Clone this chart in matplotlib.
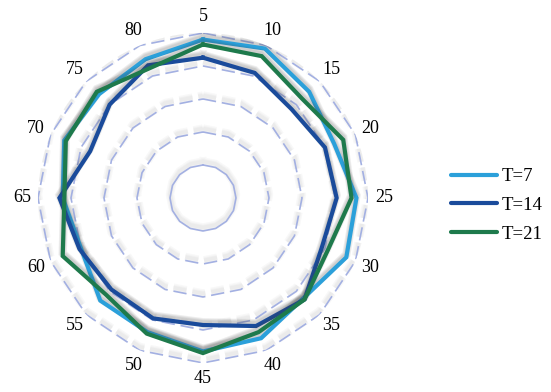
import numpy as np
import matplotlib
matplotlib.use("Agg")
import matplotlib.pyplot as plt
import matplotlib.patheffects as pe
from matplotlib.lines import Line2D

categories = ["5", "10", "15", "20", "25", "30", "35", "40",
              "45", "50", "55", "60", "65", "70", "75", "80"]
t7 = [0.96, 0.98, 0.91, 0.86, 0.93, 0.94, 0.86, 0.92,
      0.93, 0.88, 0.88, 0.80, 0.85, 0.91, 0.89, 0.91]
t14 = [0.85, 0.82, 0.76, 0.80, 0.81, 0.78, 0.87, 0.84,
       0.77, 0.79, 0.785, 0.81, 0.87, 0.74, 0.80, 0.87]
t21 = [0.93, 0.93, 0.85, 0.92, 0.90, 0.82, 0.87, 0.88,
       0.94, 0.89, 0.83, 0.92, 0.84, 0.90, 0.91, 0.85]
series = [("T=7", t7, "#2BA0DA"), ("T=14", t14, "#1A4B9B"), ("T=21", t21, "#1E7A4C")]
rings = [0.2, 0.4, 0.6, 0.8, 1.0]

plt.rcParams["font.family"] = ["Liberation Serif", "DejaVu Serif"]

n = len(categories)
angles = np.arange(n) * 2 * np.pi / n
closed = np.append(angles, angles[0])


def halo(color, off, alpha, widths):
    # fake a soft blurred shadow by stacking wide, faint copies
    return [pe.SimpleLineShadow(offset=off, shadow_color=color, alpha=alpha, linewidth=w)
            for w in widths] + [pe.Normal()]


fig = plt.figure(figsize=(5.51, 3.92), dpi=100)
ax = fig.add_axes([0.0689, 0.074, 0.599, 0.842], projection="polar")
ax.set_theta_zero_location("N")
ax.set_theta_direction(-1)
ax.set_ylim(0, 1)

for i, r in enumerate(rings):
    ls = "-" if i == 0 else (0, (8, 3.5))
    ax.plot(closed, [r] * (n + 1), color="#A3B0E2", lw=1.2, ls=ls,
            path_effects=halo("#909090", (0, 2.5), 0.06, (6, 4, 2.5)), zorder=2)

for label, vals, color in series:
    v = np.append(vals, vals[0])
    ax.plot(closed, v, color=color, lw=3.0, solid_joinstyle="miter",
            path_effects=halo("#404040", (0, 2.0), 0.09, (6, 4.5, 3)), zorder=3)

ax.set_xticks(angles)
ax.set_xticklabels(categories, fontsize=13)
ax.tick_params(axis="x", pad=4.5, length=0)
ax.set_yticks([])
ax.grid(False)
ax.spines["polar"].set_visible(False)

handles = [Line2D([], [], color=c, lw=3.0, solid_capstyle="round") for _, _, c in series]
fig.legend(handles, [s[0] for s in series], loc="center left",
           bbox_to_anchor=(0.787, 0.476), frameon=False,
           fontsize=13.5, handlelength=2.5, labelspacing=0.62, handletextpad=0.2)

fig.savefig("out.png", dpi=100)
